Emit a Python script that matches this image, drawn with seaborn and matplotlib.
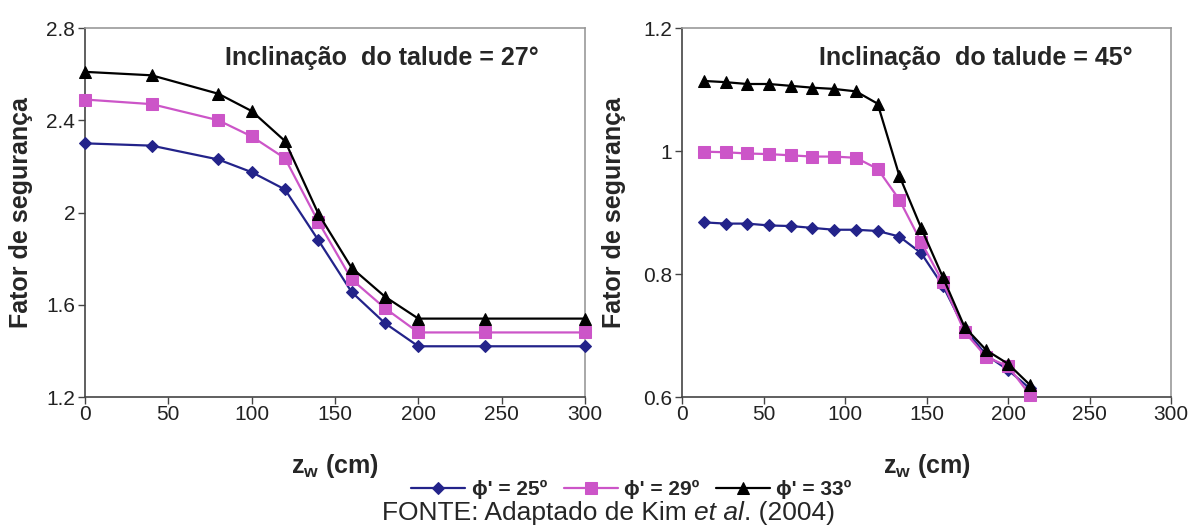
import seaborn as sns
import pandas as pd
import matplotlib.pyplot as plt

# slope 27 deg
zw_27 = [0, 40, 80, 100, 120, 140, 160, 180, 200, 240, 300]
fs27_phi25 = [2.30, 2.29, 2.23, 2.175, 2.10, 1.88, 1.655, 1.52, 1.42, 1.42, 1.42]
fs27_phi29 = [2.49, 2.47, 2.40, 2.33, 2.235, 1.96, 1.71, 1.585, 1.48, 1.48, 1.48]
fs27_phi33 = [2.61, 2.595, 2.515, 2.44, 2.31, 1.995, 1.76, 1.635, 1.54, 1.54, 1.54]

# slope 45 deg
zw_45 = [13.3, 26.7, 40, 53.3, 66.7, 80, 93.3, 106.7, 120, 133.3, 146.7, 160, 173.3, 186.7, 200, 213.3]
fs45_phi25 = [0.884, 0.882, 0.882, 0.879, 0.878, 0.875, 0.872, 0.872, 0.870, 0.861,
              0.834, 0.781, 0.711, 0.668, 0.644, 0.614]
fs45_phi29 = [0.999, 0.998, 0.996, 0.995, 0.993, 0.991, 0.991, 0.989, 0.971, 0.921,
              0.852, 0.787, 0.706, 0.665, 0.650, 0.604]
fs45_phi33 = [1.114, 1.112, 1.109, 1.109, 1.106, 1.103, 1.101, 1.097, 1.077, 0.960,
              0.875, 0.795, 0.714, 0.676, 0.654, 0.620]

labels = ["\u03d5' = 25º", "\u03d5' = 29º", "\u03d5' = 33º"]
colors = ['#23238a', '#cc55c8', '#000000']
markers = ['D', 's', '^']
msizes = [6.5, 8, 8.5]

sns.set_style('white')
plt.rcParams['font.family'] = ['Liberation Sans', 'DejaVu Sans']
plt.rcParams['mathtext.fontset'] = 'custom'
plt.rcParams['mathtext.rm'] = 'Liberation Sans'
plt.rcParams['mathtext.bf'] = 'Liberation Sans:bold'

fig = plt.figure(figsize=(11.89, 5.29), dpi=100)
ax1 = fig.add_axes([0.0715, 0.2495, 0.4205, 0.6975])
ax2 = fig.add_axes([0.5736, 0.2495, 0.4113, 0.6975])

panels = [
    (ax1, zw_27, [fs27_phi25, fs27_phi29, fs27_phi33], (1.2, 2.8), [1.2, 1.6, 2.0, 2.4, 2.8], '27°'),
    (ax2, zw_45, [fs45_phi25, fs45_phi29, fs45_phi33], (0.6, 1.2), [0.6, 0.8, 1.0, 1.2], '45°'),
]

for ax, x, series, ylim, yticks, ang in panels:
    for vals, lab, c, m, ms in zip(series, labels, colors, markers, msizes):
        df = pd.DataFrame({'zw': x, 'fs': vals})
        sns.lineplot(data=df, x='zw', y='fs', ax=ax, color=c, marker=m,
                     markersize=ms, markeredgecolor=c, linewidth=1.6, label=lab,
                     legend=False, clip_on=False, zorder=3)
    ax.set_xlim(0, 300)
    ax.set_ylim(*ylim)
    ax.set_xticks([0, 50, 100, 150, 200, 250, 300])
    ax.set_yticks(yticks)
    ax.set_yticklabels(['%g' % v for v in yticks])
    ax.tick_params(bottom=True, left=True, direction='out', length=5, width=1,
                   labelsize=15, color='#444444', labelcolor='#222222')
    ax.tick_params(axis='x', pad=1)
    ax.tick_params(axis='y', pad=2)
    for s in ['top', 'right']:
        ax.spines[s].set_color('#999999')
    for s in ['left', 'bottom']:
        ax.spines[s].set_color('#444444')
    for s in ax.spines.values():
        s.set_linewidth(1.2)
    ax.set_ylabel('Fator de segurança', fontsize=18, fontweight='bold')
    ax.set_xlabel(r'$\mathbf{z_w}$ (cm)', fontsize=18, fontweight='bold')
    ax.xaxis.set_label_coords(0.5, -0.15)
    ax.text(0.28, 0.92, 'Inclinação  do talude = ' + ang, transform=ax.transAxes,
            fontsize=18, fontweight='bold', va='center', ha='left')

ax1.yaxis.set_label_coords(-0.104, 0.5)
ax2.yaxis.set_label_coords(-0.115, 0.5)

handles, labs = ax1.get_legend_handles_labels()
fig.legend(handles, labs, loc='center', bbox_to_anchor=(0.531, 0.074), ncol=3,
           frameon=False, prop={'weight': 'bold', 'size': 15}, handlelength=2.6,
           columnspacing=0.8, handletextpad=0.3)

fy = 0.03
t0 = fig.text(0.512, fy, 'FONTE: Adaptado de Kim ', fontsize=19, ha='left', va='center')
t1 = fig.text(0.512, fy, 'et al', fontsize=19, style='italic', ha='left', va='center')
t2 = fig.text(0.512, fy, '. (2004)', fontsize=19, ha='left', va='center')
fig.canvas.draw()
W = fig.bbox.width
w0 = t0.get_window_extent().width
w1 = t1.get_window_extent().width
w2 = t2.get_window_extent().width
x0 = 0.512 * W - (w0 + w1 + w2) / 2
t0.set_x(x0 / W)
t1.set_x((x0 + w0) / W)
t2.set_x((x0 + w0 + w1) / W)

plt.savefig('out.png', dpi=100)
